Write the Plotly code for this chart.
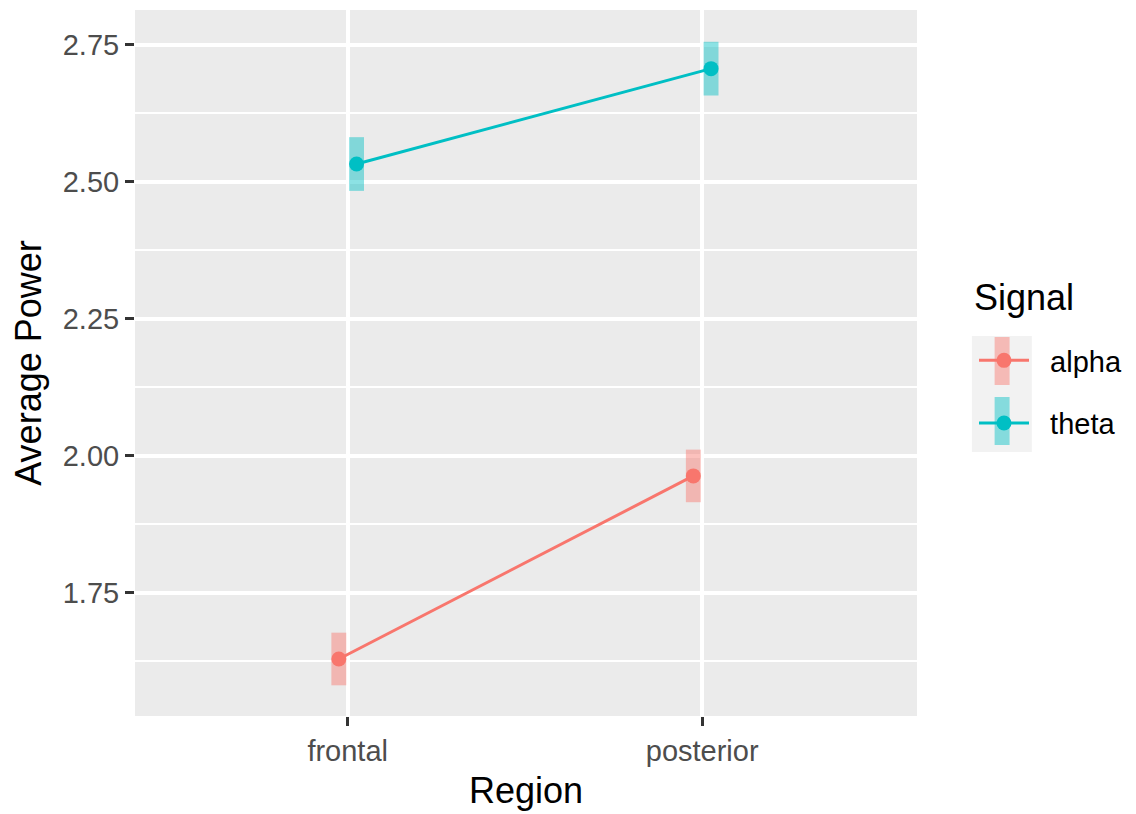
import plotly.graph_objects as go

regions = ["frontal", "posterior"]
signals = ["alpha", "theta"]
means = {"alpha": [1.629, 1.963], "theta": [2.532, 2.706]}
ses = {"alpha": [0.048, 0.048], "theta": [0.049, 0.049]}
colors = {"alpha": "#F8766D", "theta": "#00BFC4"}
bar_colors = {"alpha": "rgba(248,118,109,0.45)", "theta": "rgba(0,191,196,0.45)"}
y_ticks = [1.75, 2.00, 2.25, 2.50, 2.75]

dodge = {"alpha": -0.025, "theta": 0.025}
font_family = "Liberation Sans, Arial, Helvetica, sans-serif"

fig = go.Figure()
for s in signals:
    xs = [i + dodge[s] for i in range(len(regions))]
    lo = [m - e for m, e in zip(means[s], ses[s])]
    hi = [2 * e for e in ses[s]]
    fig.add_trace(go.Bar(
        x=xs, y=hi, base=lo, width=0.042,
        marker=dict(color=bar_colors[s], line=dict(width=0)),
        showlegend=False, legendgroup=s, hoverinfo="skip",
    ))
for s in signals:
    xs = [i + dodge[s] for i in range(len(regions))]
    fig.add_trace(go.Scatter(
        x=xs, y=means[s], mode="lines+markers", name="\u00a0\u00a0" + s, legendgroup=s,
        line=dict(color=colors[s], width=3),
        marker=dict(color=colors[s], size=15),
    ))

minor_vals = [1.625, 1.875, 2.125, 2.375, 2.625]


def px_x(px):
    return (px - 135) / 783


def px_y(py):
    return (716 - py) / 706


legend_shapes = [dict(type="rect", xref="paper", yref="paper",
                      x0=px_x(973), x1=px_x(1033), y0=px_y(452), y1=px_y(336),
                      fillcolor="#F2F2F2", line=dict(width=0), layer="below")]
for s, (top, bot) in zip(signals, [(337, 385), (397, 445)]):
    legend_shapes.append(dict(type="rect", xref="paper", yref="paper",
                              x0=px_x(995.7), x1=px_x(1010.7), y0=px_y(bot), y1=px_y(top),
                              fillcolor=bar_colors[s], line=dict(width=0), layer="above"))

fig.update_layout(
    width=1136, height=814,
    margin=dict(l=135, r=218, t=10, b=98),
    paper_bgcolor="white",
    plot_bgcolor="#EBEBEB",
    barmode="overlay",
    font=dict(family=font_family, color="#000000"),
    showlegend=True,
    legend=dict(
        font=dict(size=29, color="#000000"),
        x=px_x(974), xanchor="left", y=px_y(335), yanchor="top",
        bgcolor="rgba(0,0,0,0)", tracegroupgap=22,
        itemwidth=50,
    ),
    xaxis=dict(
        range=[-0.6, 1.606], tickmode="array", tickvals=[0, 1], ticktext=regions,
        showgrid=True, gridcolor="white", gridwidth=4, zeroline=False,
        ticks="outside", ticklen=9, tickwidth=3, tickcolor="#333333",
        tickfont=dict(size=29, color="#4D4D4D"),
        title=dict(text="Region", font=dict(size=36, color="#000000"), standoff=12),
        showline=False,
    ),
    yaxis=dict(
        range=[1.525, 2.813], tickmode="array", tickvals=y_ticks,
        ticktext=[f"{v:.2f}" for v in y_ticks],
        showgrid=True, gridcolor="white", gridwidth=4, zeroline=False,
        ticks="outside", ticklen=9, tickwidth=3, tickcolor="#333333",
        tickfont=dict(size=29, color="#4D4D4D"),
        title=dict(text="Average Power", font=dict(size=36, color="#000000"), standoff=10),
        minor=dict(tickmode="array", tickvals=minor_vals, showgrid=True,
                   gridcolor="white", gridwidth=2, ticks=""),
        showline=False,
    ),
    shapes=legend_shapes,
    annotations=[dict(text="Signal", xref="paper", yref="paper",
                      x=px_x(973), y=px_y(297), xanchor="left", yanchor="middle",
                      showarrow=False, font=dict(size=36, color="#000000"))],
)

fig.write_html("out.html")
